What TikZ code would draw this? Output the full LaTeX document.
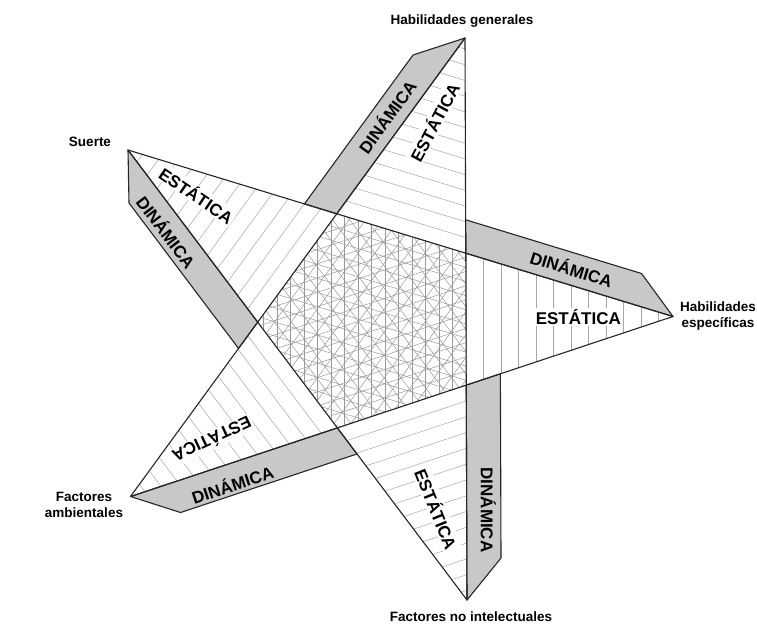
\documentclass[tikz,border=0pt]{standalone}
\usepackage{fontspec}
\setmainfont{Liberation Sans}
\usetikzlibrary{calc}
\definecolor{stripgray}{RGB}{200,200,200}
\tikzset{
  edge/.style={line width=1.1pt, black!85, line join=round, line cap=round},
  strip/.style={fill=stripgray, draw=black!85, line width=1.1pt, line join=round},
  hatchline/.style={black!35, line width=0.5pt},
  meshline/.style={black!40, line width=0.5pt},
  tiplabel/.style={font=\bfseries\fontsize{13.5}{16.5}\selectfont, align=center, inner sep=0pt},
  armlabel/.style={font=\bfseries\fontsize{17}{18}\selectfont, inner sep=1.5pt},
  statlabel/.style={armlabel, fill=white},
}
% parallel lines through an origin at a given angle and spacing
\newcommand{\armhatch}[5]{%
  \begin{scope}[shift={(#1)}, rotate=#2]
    \foreach \k in {-#4,...,#4}
      \draw[#5] (-800,\k*#3) -- (800,\k*#3);
  \end{scope}}

\begin{document}
\begin{tikzpicture}[x=1pt,y=-1pt]
\useasboundingbox (0,0) rectangle (757,625);
\fill[white] (0,0) rectangle (757,625);

% star tips
\coordinate (T) at (465,38);
\coordinate (S) at (128,150);
\coordinate (R) at (673,316.5);
\coordinate (F) at (130.5,496.5);
\coordinate (B) at (467,600);

% corners of the central pentagon
\coordinate (A) at (intersection of T--F and S--R);
\coordinate (V) at (intersection of T--B and S--R);
\coordinate (C) at (intersection of T--B and R--F);
\coordinate (D) at (intersection of R--F and S--B);
\coordinate (E) at (intersection of S--B and T--F);

% outer corners of the grey bands
\coordinate (Tc) at (413,55);
\coordinate (Sc) at (129,203);
\coordinate (Rc) at (641.5,273.5);
\coordinate (Fc) at (180.5,512.5);
\coordinate (Bc) at (501,558);
\coordinate (Tq) at ($(Tc)+(F)-(T)$);
\coordinate (Sq) at ($(Sc)+(B)-(S)$);
\coordinate (Rq) at ($(Rc)+(S)-(R)$);
\coordinate (Fq) at ($(Fc)+(R)-(F)$);
\coordinate (Bq) at ($(Bc)+(T)-(B)$);
\coordinate (X1) at (intersection of Tc--Tq and S--R);
\coordinate (X2) at (intersection of Rc--Rq and T--B);
\coordinate (X3) at (intersection of Bc--Bq and R--F);
\coordinate (X4) at (intersection of Fc--Fq and S--B);
\coordinate (X5) at (intersection of Sc--Sq and T--F);

% hatching of the five arms
\begin{scope}
  \clip (T)--(V)--(A)--cycle;
  \armhatch{A}{-17}{15}{30}{hatchline}
\end{scope}
\begin{scope}
  \clip (R)--(C)--(V)--cycle;
  \armhatch{V}{90}{17.5}{30}{hatchline}
\end{scope}
\begin{scope}
  \clip (B)--(D)--(C)--cycle;
  \armhatch{C}{18.36}{15}{30}{hatchline}
\end{scope}
\begin{scope}
  \clip (F)--(E)--(D)--cycle;
  \armhatch{D}{-53}{16}{30}{hatchline}
\end{scope}
\begin{scope}
  \clip (S)--(A)--(E)--cycle;
  \armhatch{E}{53.9}{16}{30}{hatchline}
\end{scope}

% mesh of the pentagon where all five hatchings cross
\begin{scope}
  \clip (A)--(V)--(C)--(D)--(E)--cycle;
  \armhatch{A}{-17}{13.5}{30}{meshline}
  \armhatch{V}{90}{13.5}{30}{meshline}
  \armhatch{C}{18.36}{13.5}{30}{meshline}
  \armhatch{D}{-53}{13.5}{30}{meshline}
  \armhatch{E}{53.9}{13.5}{30}{meshline}
\end{scope}

% grey bands
\draw[strip] (T)--(Tc)--(X1)--(A)--cycle;
\draw[strip] (R)--(Rc)--(X2)--(V)--cycle;
\draw[strip] (B)--(Bc)--(X3)--(C)--cycle;
\draw[strip] (F)--(Fc)--(X4)--(D)--cycle;
\draw[strip] (S)--(Sc)--(X5)--(E)--cycle;

% the five lines of the star
\draw[edge] (T)--(B);
\draw[edge] (S)--(R);
\draw[edge] (S)--(B);
\draw[edge] (R)--(F);
\draw[edge] (T)--(F);

% band and arm labels
\node[armlabel, rotate=54] (dT) at (386.7,116.7) {DINÁMICA};
\node[statlabel, rotate=62] (eT) at (434,122) {ESTÁTICA};
\node[statlabel, rotate=-34] (eS) at (196.7,195) {ESTÁTICA};
\node[armlabel, rotate=-53] (dS) at (166.7,231.7) {DINÁMICA};
\node[armlabel, rotate=-17] (dR) at (571.7,268.3) {DINÁMICA};
\node[statlabel] (eR) at (578.3,317.3) {ESTÁTICA};
\node[statlabel, rotate=205] (eF) at (212.3,440) {ESTÁTICA};
\node[armlabel, rotate=18.4] (dF) at (232.3,484) {DINÁMICA};
\node[statlabel, rotate=-68] (eB) at (436.7,509) {ESTÁTICA};
\node[armlabel, rotate=-90] (dB) at (488.3,510) {DINÁMICA};

% tip labels
\node[tiplabel] (lT) at (462,21) {Habilidades generales};
\node[tiplabel] (lS) at (90,142) {Suerte};
\node[tiplabel] (lR) at (718,316) {Habilidades\\específicas};
\node[tiplabel] (lF) at (84,505) {Factores\\ambientales};
\node[tiplabel] (lB) at (471,617) {Factores no intelectuales};
\end{tikzpicture}
\end{document}
